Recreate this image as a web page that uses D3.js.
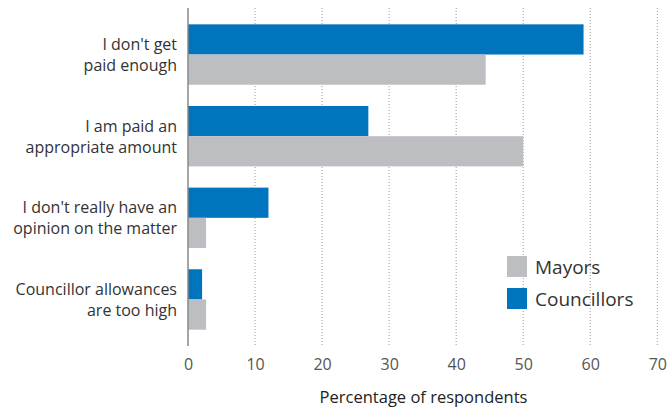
<!DOCTYPE html>
<html>
<head>
<meta charset="utf-8">
<script src="https://cdn.jsdelivr.net/npm/d3@7"></script>
<style>
  body { margin: 0; background: #fff; }
  svg { display: block; font-family: "Open Sans", "Noto Sans", sans-serif; }
</style>
</head>
<body>
<svg id="chart" width="668" height="407"></svg>
<script>
// Survey responses on pay (percentage of respondents)
const categories = [
  ["I don't get", "paid enough"],
  ["I am paid an", "appropriate amount"],
  ["I don't really have an", "opinion on the matter"],
  ["Councillor allowances", "are too high"]
];
const councillors = [59, 26.9, 12, 2.1];
const mayors = [44.4, 50, 2.7, 2.7];
const xTicks = [0, 10, 20, 30, 40, 50, 60, 70];
const seriesNames = ["Mayors", "Councillors"];
const colors = { Mayors: "#bdbec2", Councillors: "#0075be" };

const svg = d3.select("#chart");
const plotLeft = 188, plotRight = 657.3, plotTop = 8, plotBottom = 346;

const x = d3.scaleLinear().domain([0, 70]).range([plotLeft, plotRight]);
const y = d3.scaleBand().domain(d3.range(categories.length))
  .range([plotTop, plotBottom]).paddingInner(0.26).paddingOuter(0.2);
const sub = d3.scaleBand().domain(["Councillors", "Mayors"])
  .range([0, y.bandwidth()]);

// dotted gridlines
svg.append("g").selectAll("line")
  .data(xTicks.filter(d => d > 0))
  .join("line")
  .attr("x1", d => x(d)).attr("x2", d => x(d))
  .attr("y1", plotTop).attr("y2", plotBottom)
  .attr("stroke", "#9a9a9a")
  .attr("stroke-width", 1)
  .attr("stroke-dasharray", "1,2");

// bars
const groups = svg.append("g").selectAll("g")
  .data(categories.map((c, i) => ({ i, Councillors: councillors[i], Mayors: mayors[i] })))
  .join("g")
  .attr("transform", d => `translate(0,${y(d.i)})`);

groups.selectAll("rect")
  .data(d => ["Councillors", "Mayors"].map(k => ({ k, v: d[k] })))
  .join("rect")
  .attr("x", x(0))
  .attr("y", d => sub(d.k))
  .attr("width", d => x(d.v) - x(0))
  .attr("height", sub.bandwidth())
  .attr("fill", d => colors[d.k]);

// baseline
svg.append("line")
  .attr("x1", plotLeft).attr("x2", plotLeft)
  .attr("y1", plotTop).attr("y2", plotBottom)
  .attr("stroke", "#888").attr("stroke-width", 1.5);

// x axis
const xAxis = svg.append("g")
  .attr("transform", `translate(0,${plotBottom})`)
  .call(d3.axisBottom(x).tickValues(xTicks).tickSize(0).tickPadding(13));
xAxis.select(".domain").remove();
xAxis.selectAll("text")
  .attr("font-size", 16)
  .attr("fill", "#555")
  .attr("font-family", "\"Open Sans\", sans-serif");

svg.append("text")
  .attr("x", 423.5)
  .attr("y", 403)
  .attr("text-anchor", "middle")
  .attr("font-size", 16.5)
  .attr("fill", "#222")
  .text("Percentage of respondents");

// category labels
const labels = svg.append("g").selectAll("text")
  .data(categories)
  .join("text")
  .attr("text-anchor", "end")
  .attr("font-size", 16)
  .attr("fill", "#333");
labels.selectAll("tspan")
  .data((d, i) => d.map((line, j) => ({ line, j, i })))
  .join("tspan")
  .attr("x", 177)
  .attr("y", d => y(d.i) + y.bandwidth() / 2 - 4.5 + d.j * 21)
  .text(d => d.line);

// legend
const legend = svg.append("g").selectAll("g")
  .data(seriesNames)
  .join("g")
  .attr("transform", (d, i) => `translate(507,${256 + i * 32})`);
legend.append("rect")
  .attr("width", 20).attr("height", 21)
  .attr("fill", d => colors[d]);
legend.append("text")
  .attr("x", 28).attr("y", 18)
  .attr("font-size", 19)
  .attr("fill", "#333")
  .text(d => d);
</script>
</body>
</html>
